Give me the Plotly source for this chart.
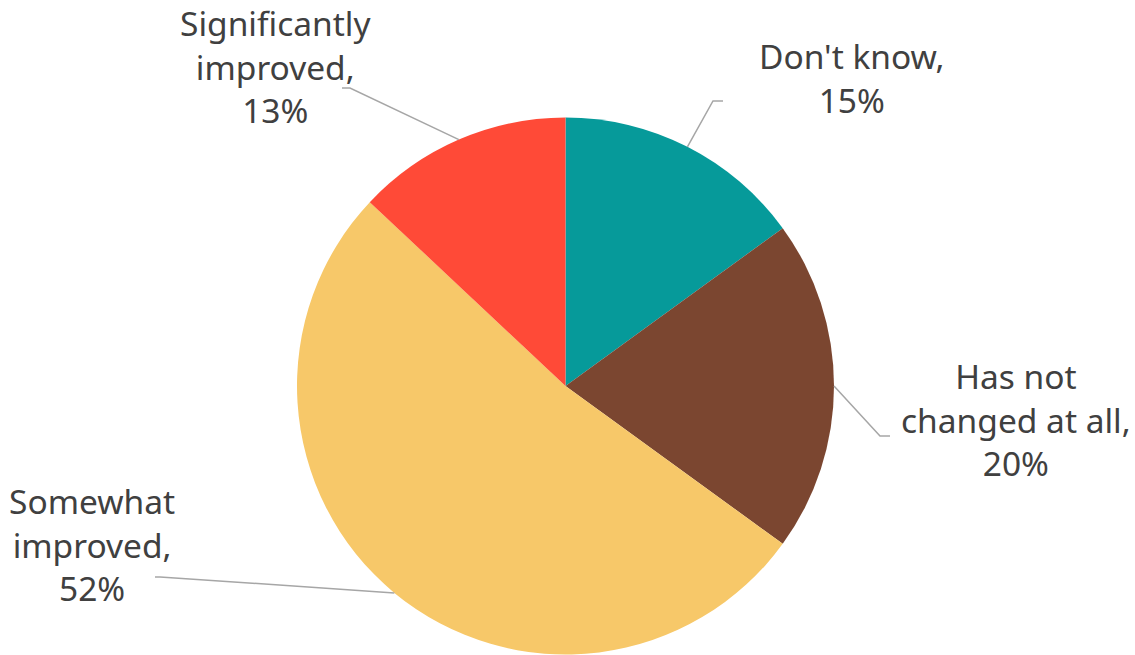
import math
import plotly.graph_objects as go

# ---- data ----
categories = ["Don't know", "Has not changed at all", "Somewhat improved", "Significantly improved"]
values = [15, 20, 52, 13]
label_lines = [["Don't know,", "15%"],
               ["Has not", "changed at all,", "20%"],
               ["Somewhat", "improved,", "52%"],
               ["Significantly", "improved,", "13%"]]

# ---- style / layout ----
colors = ["#069A9A", "#7B4630", "#F7C869", "#FF4A37"]
W, H = 1135, 655
CX, CY, R = 565.5, 386.0, 268.5
# label block centre (px) and leader elbow (px), horizontal tail end (px)
label_pos = [(852, 78), (1016, 419), (92, 544), (275, 66)]
elbow_pos = [(713, 101), (880, 436), (160, 577), (350, 88)]
tail_end = [(723, 101), (890, 436), (155, 577), (342, 88)]
FONT = "Noto Sans"
FSIZE = 33.5
TXT = "#404040"
LINE = "#A6A6A6"


def px(x, y):
    return x / W, 1 - y / H


fig = go.Figure(go.Pie(
    labels=categories, values=values, sort=False, direction="clockwise",
    rotation=0, marker=dict(colors=colors, line=dict(width=0)),
    textinfo="none", hoverinfo="label+percent", showlegend=False,
    domain=dict(x=[(CX - R) / W, (CX + R) / W], y=[1 - (CY + R) / H, 1 - (CY - R) / H]),
))

total = sum(values)
cum = 0
shapes = []
annotations = []
for i, v in enumerate(values):
    mid = (cum + v / 2) / total * 2 * math.pi
    cum += v
    sx = CX + R * math.sin(mid)
    sy = CY - R * math.cos(mid)
    pts = [(sx, sy), elbow_pos[i], tail_end[i]]
    path = "M " + " L ".join(f"{px(*p)[0]:.5f},{px(*p)[1]:.5f}" for p in pts)
    shapes.append(dict(type="path", xref="paper", yref="paper", path=path,
                       line=dict(color=LINE, width=1.5)))
    lx, ly = px(*label_pos[i])
    annotations.append(dict(x=lx, y=ly, xref="paper", yref="paper",
                            text="<br>".join(label_lines[i]), showarrow=False,
                            xanchor="center", yanchor="middle", align="center",
                            font=dict(family=FONT, size=FSIZE, color=TXT)))

fig.update_layout(width=W, height=H, margin=dict(l=0, r=0, t=0, b=0),
                  paper_bgcolor="white", plot_bgcolor="white",
                  shapes=shapes, annotations=annotations)
fig.write_html("out.html", config={"displayModeBar": False},
               post_script="document.body.style.margin='0';")
